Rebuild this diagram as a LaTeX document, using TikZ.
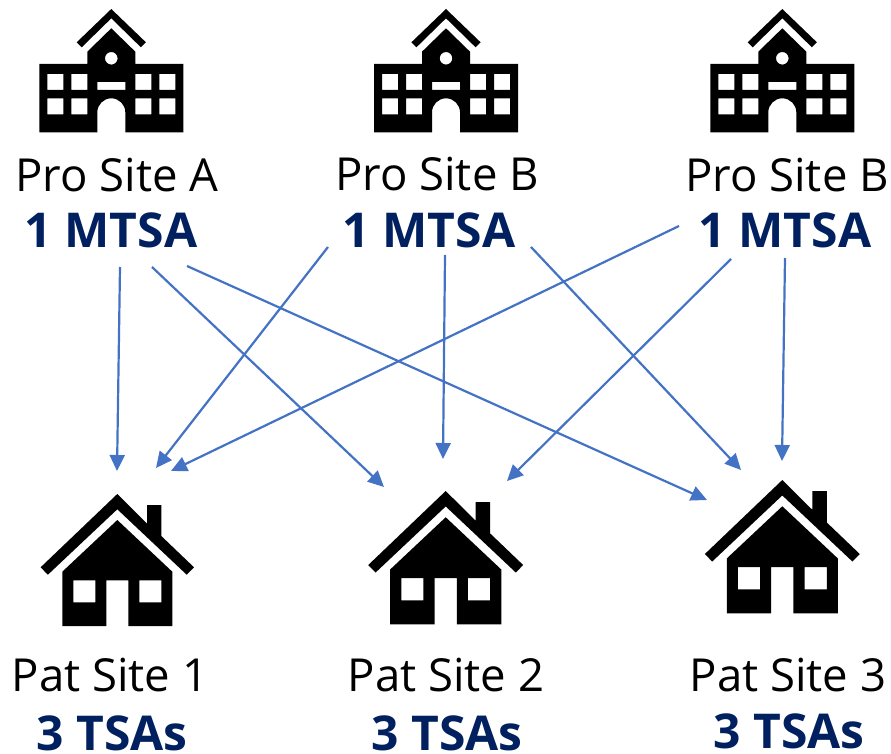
\documentclass[tikz,border=0pt]{standalone}
\usepackage{fontspec}
\setmainfont{Open Sans}
\usetikzlibrary{arrows.meta}
\definecolor{navy}{HTML}{002060}
\definecolor{link}{HTML}{4472C4}
\tikzset{
  x=1pt,y=-1pt,
  sitelabel/.style={anchor=base,inner sep=0pt,text depth=0pt,font=\fontsize{45.5}{46}\selectfont,text=black},
  countlabel/.style={anchor=base,inner sep=0pt,text depth=0pt,font=\fontsize{48}{48}\selectfont\bfseries,text=navy},
  flow/.style={draw=link,line width=2.2pt,-{Triangle[length=16pt,width=15pt]}},
  school/.pic={
    \fill[black] (0,9) -- (34.6,42.3) -- (29.6,47.3) -- (0,18.3) -- (-29.6,47.3) -- (-34.6,42.3) -- cycle;
    \fill[black,even odd rule]
      (0,28.3) -- (24,51.7) -- (24,64) -- (72,64) -- (72,132.3) -- (14,132.3) -- (14,112.3)
        .. controls (14,104.6) and (7.7,98.3) .. (0,98.3)
        .. controls (-7.7,98.3) and (-14,104.6) .. (-14,112.3)
        -- (-14,132.3) -- (-72,132.3) -- (-72,64) -- (-24,64) -- (-24,51.7) -- cycle
      (0,58.3) circle[radius=6.3pt]
      (-64,74) rectangle (-48,90) (-40,74) rectangle (-24,90)
      (24,74) rectangle (40,90) (48,74) rectangle (64,90)
      (-64,98.3) rectangle (-48,114.3) (-40,98.3) rectangle (-24,114.3)
      (24,98.3) rectangle (40,114.3) (48,98.3) rectangle (64,114.3)
      (-14,82) rectangle (14,90);
  },
  house/.pic={
    \fill[black] (0,0) -- (29.7,29.5) -- (29.7,11) -- (44,11) -- (44,42) -- (76.7,73.3) -- (69.4,80.7)
      -- (0,15.3) -- (-69.4,80.7) -- (-76.7,73.3) -- cycle;
    \fill[black,even odd rule]
      (0,26) -- (55,77.7) -- (55,132) -- (11,132) -- (11,86.3) -- (-11,86.3) -- (-11,132) -- (-55,132) -- (-55,77.7) -- cycle
      (-44,86.3) rectangle (-22,108.3)
      (22,86.3) rectangle (44,108.3);
  }
}
\begin{document}
\begin{tikzpicture}
\useasboundingbox (0,0) rectangle (891,754);
\fill[white] (0,0) rectangle (891,754);
% schools
\pic at (111.3,0) {school};
\pic at (446,0) {school};
\pic at (782.3,0) {school};
% houses
\pic at (117.3,494) {house};
\pic[scale=1.01] at (445.7,491) {house};
\pic[scale=1.01] at (782.3,480) {house};
% labels
\node[sitelabel] (proA) at (117,192) {Pro Site A};
\node[countlabel] (mA) at (111,247) {1 MTSA};
\node[sitelabel] (proB) at (437,190.5) {Pro Site B};
\node[countlabel] (mB) at (429,247) {1 MTSA};
\node[sitelabel] (proC) at (787,192) {Pro Site B};
\node[countlabel] (mC) at (785,247) {1 MTSA};
\node[sitelabel] (pat1) at (110,691.5) {Pat Site 1};
\node[countlabel] (t1) at (112,750) {3 TSAs};
\node[sitelabel] (pat2) at (446,691.5) {Pat Site 2};
\node[countlabel] (t2) at (447,750) {3 TSAs};
\node[sitelabel] (pat3) at (788,691.5) {Pat Site 3};
\node[countlabel] (t3) at (789,748) {3 TSAs};
% connector ends
\coordinate (a1) at (120,267); \coordinate (a2) at (152,267); \coordinate (a3) at (187,266);
\coordinate (b1) at (328,247); \coordinate (b2) at (445,255); \coordinate (b3) at (531,247);
\coordinate (c1) at (679,226); \coordinate (c2) at (731,259); \coordinate (c3) at (785,258);
\coordinate (h1a) at (117,471); \coordinate (h1b) at (156,468); \coordinate (h1c) at (171,471);
\coordinate (h2a) at (384,487); \coordinate (h2b) at (443,459); \coordinate (h2c) at (507,481);
\coordinate (h3a) at (707,500); \coordinate (h3b) at (741,470); \coordinate (h3c) at (782,461);
\draw[flow] (a1) -- (h1a);
\draw[flow] (a2) -- (h2a);
\draw[flow] (a3) -- (h3a);
\draw[flow] (b1) -- (h1b);
\draw[flow] (b2) -- (h2b);
\draw[flow] (b3) -- (h3b);
\draw[flow] (c1) -- (h1c);
\draw[flow] (c2) -- (h2c);
\draw[flow] (c3) -- (h3c);
\end{tikzpicture}
\end{document}
